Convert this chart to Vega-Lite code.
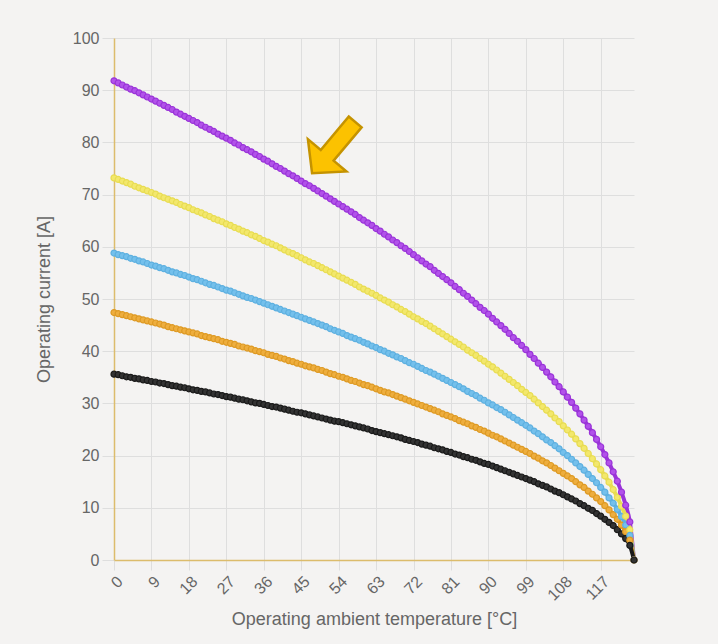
{
  "$schema": "https://vega.github.io/schema/vega-lite/v6.json",
  "width": 520,
  "height": 522,
  "autosize": {"type": "none"},
  "padding": {"left": 114, "top": 38, "right": 84, "bottom": 84},
  "background": "#f4f3f2",
  "config": {
    "view": {"stroke": null},
    "font": "Liberation Sans",
    "axis": {"labelFont": "Liberation Sans", "titleFont": "Liberation Sans", "labelColor": "#666666", "titleColor": "#666666", "titleFontWeight": "normal", "gridColor": "#dedede", "tickColor": "#dedede", "domainColor": "#dcbc6c", "domainWidth": 1.5}
  },
  "data": {"values": [
    {"t":0,"purple":91.8,"yellow":73.2,"blue":58.8,"orange":47.4,"black":35.6},
    {"t":1,"purple":91.4,"yellow":72.9,"blue":58.5,"orange":47.2,"black":35.5},
    {"t":2,"purple":91.0,"yellow":72.6,"blue":58.3,"orange":47.0,"black":35.3},
    {"t":3,"purple":90.6,"yellow":72.3,"blue":58.1,"orange":46.8,"black":35.1},
    {"t":4,"purple":90.2,"yellow":72.0,"blue":57.8,"orange":46.6,"black":35.0},
    {"t":5,"purple":89.9,"yellow":71.6,"blue":57.6,"orange":46.4,"black":34.8},
    {"t":6,"purple":89.5,"yellow":71.3,"blue":57.3,"orange":46.2,"black":34.7},
    {"t":7,"purple":89.1,"yellow":71.0,"blue":57.1,"orange":46.0,"black":34.5},
    {"t":8,"purple":88.7,"yellow":70.7,"blue":56.8,"orange":45.8,"black":34.4},
    {"t":9,"purple":88.3,"yellow":70.4,"blue":56.5,"orange":45.6,"black":34.2},
    {"t":10,"purple":87.9,"yellow":70.1,"blue":56.3,"orange":45.4,"black":34.1},
    {"t":11,"purple":87.5,"yellow":69.7,"blue":56.0,"orange":45.2,"black":33.9},
    {"t":12,"purple":87.1,"yellow":69.4,"blue":55.8,"orange":45.0,"black":33.8},
    {"t":13,"purple":86.7,"yellow":69.1,"blue":55.5,"orange":44.7,"black":33.6},
    {"t":14,"purple":86.3,"yellow":68.8,"blue":55.2,"orange":44.5,"black":33.4},
    {"t":15,"purple":85.8,"yellow":68.5,"blue":55.0,"orange":44.3,"black":33.3},
    {"t":16,"purple":85.4,"yellow":68.1,"blue":54.7,"orange":44.1,"black":33.1},
    {"t":17,"purple":85.0,"yellow":67.8,"blue":54.5,"orange":43.9,"black":33.0},
    {"t":18,"purple":84.6,"yellow":67.5,"blue":54.2,"orange":43.7,"black":32.8},
    {"t":19,"purple":84.2,"yellow":67.1,"blue":53.9,"orange":43.5,"black":32.6},
    {"t":20,"purple":83.8,"yellow":66.8,"blue":53.7,"orange":43.3,"black":32.5},
    {"t":21,"purple":83.3,"yellow":66.5,"blue":53.4,"orange":43.0,"black":32.3},
    {"t":22,"purple":82.9,"yellow":66.1,"blue":53.1,"orange":42.8,"black":32.2},
    {"t":23,"purple":82.5,"yellow":65.8,"blue":52.8,"orange":42.6,"black":32.0},
    {"t":24,"purple":82.1,"yellow":65.4,"blue":52.6,"orange":42.4,"black":31.8},
    {"t":25,"purple":81.6,"yellow":65.1,"blue":52.3,"orange":42.2,"black":31.7},
    {"t":26,"purple":81.2,"yellow":64.8,"blue":52.0,"orange":41.9,"black":31.5},
    {"t":27,"purple":80.8,"yellow":64.4,"blue":51.7,"orange":41.7,"black":31.3},
    {"t":28,"purple":80.4,"yellow":64.1,"blue":51.5,"orange":41.5,"black":31.2},
    {"t":29,"purple":79.9,"yellow":63.7,"blue":51.2,"orange":41.3,"black":31.0},
    {"t":30,"purple":79.5,"yellow":63.4,"blue":50.9,"orange":41.0,"black":30.8},
    {"t":31,"purple":79.0,"yellow":63.0,"blue":50.6,"orange":40.8,"black":30.7},
    {"t":32,"purple":78.6,"yellow":62.7,"blue":50.3,"orange":40.6,"black":30.5},
    {"t":33,"purple":78.2,"yellow":62.3,"blue":50.1,"orange":40.4,"black":30.3},
    {"t":34,"purple":77.7,"yellow":62.0,"blue":49.8,"orange":40.1,"black":30.1},
    {"t":35,"purple":77.3,"yellow":61.6,"blue":49.5,"orange":39.9,"black":30.0},
    {"t":36,"purple":76.8,"yellow":61.2,"blue":49.2,"orange":39.7,"black":29.8},
    {"t":37,"purple":76.4,"yellow":60.9,"blue":48.9,"orange":39.4,"black":29.6},
    {"t":38,"purple":75.9,"yellow":60.5,"blue":48.6,"orange":39.2,"black":29.4},
    {"t":39,"purple":75.4,"yellow":60.2,"blue":48.3,"orange":39.0,"black":29.3},
    {"t":40,"purple":75.0,"yellow":59.8,"blue":48.0,"orange":38.7,"black":29.1},
    {"t":41,"purple":74.5,"yellow":59.4,"blue":47.7,"orange":38.5,"black":28.9},
    {"t":42,"purple":74.0,"yellow":59.0,"blue":47.4,"orange":38.2,"black":28.7},
    {"t":43,"purple":73.6,"yellow":58.7,"blue":47.1,"orange":38.0,"black":28.5},
    {"t":44,"purple":73.1,"yellow":58.3,"blue":46.8,"orange":37.7,"black":28.3},
    {"t":45,"purple":72.6,"yellow":57.9,"blue":46.5,"orange":37.5,"black":28.2},
    {"t":46,"purple":72.1,"yellow":57.5,"blue":46.2,"orange":37.2,"black":28.0},
    {"t":47,"purple":71.7,"yellow":57.1,"blue":45.9,"orange":37.0,"black":27.8},
    {"t":48,"purple":71.2,"yellow":56.8,"blue":45.6,"orange":36.8,"black":27.6},
    {"t":49,"purple":70.7,"yellow":56.4,"blue":45.3,"orange":36.5,"black":27.4},
    {"t":50,"purple":70.2,"yellow":56.0,"blue":45.0,"orange":36.3,"black":27.2},
    {"t":51,"purple":69.7,"yellow":55.6,"blue":44.7,"orange":36.0,"black":27.0},
    {"t":52,"purple":69.2,"yellow":55.2,"blue":44.3,"orange":35.7,"black":26.8},
    {"t":53,"purple":68.7,"yellow":54.8,"blue":44.0,"orange":35.5,"black":26.6},
    {"t":54,"purple":68.2,"yellow":54.4,"blue":43.7,"orange":35.2,"black":26.5},
    {"t":55,"purple":67.7,"yellow":54.0,"blue":43.4,"orange":35.0,"black":26.3},
    {"t":56,"purple":67.2,"yellow":53.6,"blue":43.0,"orange":34.7,"black":26.1},
    {"t":57,"purple":66.7,"yellow":53.2,"blue":42.7,"orange":34.4,"black":25.9},
    {"t":58,"purple":66.2,"yellow":52.8,"blue":42.4,"orange":34.2,"black":25.7},
    {"t":59,"purple":65.6,"yellow":52.3,"blue":42.1,"orange":33.9,"black":25.5},
    {"t":60,"purple":65.1,"yellow":51.9,"blue":41.7,"orange":33.6,"black":25.3},
    {"t":61,"purple":64.6,"yellow":51.5,"blue":41.4,"orange":33.4,"black":25.1},
    {"t":62,"purple":64.1,"yellow":51.1,"blue":41.0,"orange":33.1,"black":24.8},
    {"t":63,"purple":63.5,"yellow":50.7,"blue":40.7,"orange":32.8,"black":24.6},
    {"t":64,"purple":63.0,"yellow":50.2,"blue":40.3,"orange":32.5,"black":24.4},
    {"t":65,"purple":62.4,"yellow":49.8,"blue":40.0,"orange":32.2,"black":24.2},
    {"t":66,"purple":61.9,"yellow":49.4,"blue":39.6,"orange":32.0,"black":24.0},
    {"t":67,"purple":61.3,"yellow":48.9,"blue":39.3,"orange":31.7,"black":23.8},
    {"t":68,"purple":60.8,"yellow":48.5,"blue":38.9,"orange":31.4,"black":23.6},
    {"t":69,"purple":60.2,"yellow":48.0,"blue":38.6,"orange":31.1,"black":23.4},
    {"t":70,"purple":59.7,"yellow":47.6,"blue":38.2,"orange":30.8,"black":23.1},
    {"t":71,"purple":59.1,"yellow":47.1,"blue":37.8,"orange":30.5,"black":22.9},
    {"t":72,"purple":58.5,"yellow":46.6,"blue":37.5,"orange":30.2,"black":22.7},
    {"t":73,"purple":57.9,"yellow":46.2,"blue":37.1,"orange":29.9,"black":22.5},
    {"t":74,"purple":57.3,"yellow":45.7,"blue":36.7,"orange":29.6,"black":22.2},
    {"t":75,"purple":56.7,"yellow":45.3,"blue":36.3,"orange":29.3,"black":22.0},
    {"t":76,"purple":56.2,"yellow":44.8,"blue":36.0,"orange":29.0,"black":21.8},
    {"t":77,"purple":55.5,"yellow":44.3,"blue":35.6,"orange":28.7,"black":21.5},
    {"t":78,"purple":54.9,"yellow":43.8,"blue":35.2,"orange":28.4,"black":21.3},
    {"t":79,"purple":54.3,"yellow":43.3,"blue":34.8,"orange":28.0,"black":21.1},
    {"t":80,"purple":53.7,"yellow":42.8,"blue":34.4,"orange":27.7,"black":20.8},
    {"t":81,"purple":53.1,"yellow":42.3,"blue":34.0,"orange":27.4,"black":20.6},
    {"t":82,"purple":52.4,"yellow":41.8,"blue":33.6,"orange":27.1,"black":20.3},
    {"t":83,"purple":51.8,"yellow":41.3,"blue":33.2,"orange":26.7,"black":20.1},
    {"t":84,"purple":51.1,"yellow":40.8,"blue":32.8,"orange":26.4,"black":19.8},
    {"t":85,"purple":50.5,"yellow":40.2,"blue":32.3,"orange":26.1,"black":19.6},
    {"t":86,"purple":49.8,"yellow":39.7,"blue":31.9,"orange":25.7,"black":19.3},
    {"t":87,"purple":49.1,"yellow":39.2,"blue":31.5,"orange":25.4,"black":19.1},
    {"t":88,"purple":48.4,"yellow":38.6,"blue":31.0,"orange":25.0,"black":18.8},
    {"t":89,"purple":47.8,"yellow":38.1,"blue":30.6,"orange":24.7,"black":18.5},
    {"t":90,"purple":47.1,"yellow":37.5,"blue":30.1,"orange":24.3,"black":18.3},
    {"t":91,"purple":46.3,"yellow":37.0,"blue":29.7,"orange":23.9,"black":18.0},
    {"t":92,"purple":45.6,"yellow":36.4,"blue":29.2,"orange":23.6,"black":17.7},
    {"t":93,"purple":44.9,"yellow":35.8,"blue":28.8,"orange":23.2,"black":17.4},
    {"t":94,"purple":44.2,"yellow":35.2,"blue":28.3,"orange":22.8,"black":17.1},
    {"t":95,"purple":43.4,"yellow":34.6,"blue":27.8,"orange":22.4,"black":16.8},
    {"t":96,"purple":42.6,"yellow":34.0,"blue":27.3,"orange":22.0,"black":16.5},
    {"t":97,"purple":41.9,"yellow":33.4,"blue":26.8,"orange":21.6,"black":16.2},
    {"t":98,"purple":41.1,"yellow":32.7,"blue":26.3,"orange":21.2,"black":15.9},
    {"t":99,"purple":40.3,"yellow":32.1,"blue":25.8,"orange":20.8,"black":15.6},
    {"t":100,"purple":39.4,"yellow":31.5,"blue":25.3,"orange":20.4,"black":15.3},
    {"t":101,"purple":38.6,"yellow":30.8,"blue":24.7,"orange":19.9,"black":15.0},
    {"t":102,"purple":37.7,"yellow":30.1,"blue":24.2,"orange":19.5,"black":14.6},
    {"t":103,"purple":36.9,"yellow":29.4,"blue":23.6,"orange":19.0,"black":14.3},
    {"t":104,"purple":36.0,"yellow":28.7,"blue":23.0,"orange":18.6,"black":14.0},
    {"t":105,"purple":35.1,"yellow":28.0,"blue":22.5,"orange":18.1,"black":13.6},
    {"t":106,"purple":34.1,"yellow":27.2,"blue":21.9,"orange":17.6,"black":13.2},
    {"t":107,"purple":33.2,"yellow":26.5,"blue":21.3,"orange":17.1,"black":12.9},
    {"t":108,"purple":32.2,"yellow":25.7,"blue":20.6,"orange":16.6,"black":12.5},
    {"t":109,"purple":31.2,"yellow":24.9,"blue":20.0,"orange":16.1,"black":12.1},
    {"t":110,"purple":30.2,"yellow":24.1,"blue":19.3,"orange":15.6,"black":11.7},
    {"t":111,"purple":29.1,"yellow":23.2,"blue":18.6,"orange":15.0,"black":11.3},
    {"t":112,"purple":28.0,"yellow":22.3,"blue":17.9,"orange":14.4,"black":10.8},
    {"t":113,"purple":26.8,"yellow":21.4,"blue":17.2,"orange":13.9,"black":10.4},
    {"t":114,"purple":25.6,"yellow":20.4,"blue":16.4,"orange":13.2,"black":9.9},
    {"t":115,"purple":24.4,"yellow":19.4,"blue":15.6,"orange":12.6,"black":9.5},
    {"t":116,"purple":23.1,"yellow":18.4,"blue":14.8,"orange":11.9,"black":8.9},
    {"t":117,"purple":21.7,"yellow":17.3,"blue":13.9,"orange":11.2,"black":8.4},
    {"t":118,"purple":20.2,"yellow":16.1,"blue":13.0,"orange":10.4,"black":7.8},
    {"t":119,"purple":18.6,"yellow":14.9,"blue":11.9,"orange":9.6,"black":7.2},
    {"t":120,"purple":16.9,"yellow":13.5,"blue":10.9,"orange":8.7,"black":6.6},
    {"t":121,"purple":15.1,"yellow":12.0,"blue":9.7,"orange":7.8,"black":5.8},
    {"t":122,"purple":13.0,"yellow":10.3,"blue":8.3,"orange":6.7,"black":5.0},
    {"t":123,"purple":10.5,"yellow":8.4,"blue":6.7,"orange":5.4,"black":4.1},
    {"t":124,"purple":7.3,"yellow":5.8,"blue":4.7,"orange":3.8,"black":2.8},
    {"t":125,"purple":0,"yellow":0,"blue":0,"orange":0,"black":0}
  ]},
  "layer": [
    {
      "transform": [{"fold": ["purple", "yellow", "blue", "orange", "black"], "as": ["series", "current"]}],
      "mark": {"type": "line", "strokeWidth": 4, "interpolate": "monotone"},
      "encoding": {
        "x": {"field": "t", "type": "quantitative", "scale": {"domain": [0, 125], "nice": false, "zero": false},
          "axis": {"values": [0, 9, 18, 27, 36, 45, 54, 63, 72, 81, 90, 99, 108, 117], "tickCount": 30, "title": "Operating ambient temperature [°C]", "labelAngle": -45, "labelOverlap": false, "grid": true, "tickSize": 10, "labelFontSize": 16, "titleFontSize": 18, "titlePadding": 7, "labelPadding": 3}},
        "y": {"field": "current", "type": "quantitative", "scale": {"domain": [0, 100], "nice": false},
          "axis": {"values": [0, 10, 20, 30, 40, 50, 60, 70, 80, 90, 100], "tickCount": 20, "title": "Operating current [A]", "grid": true, "tickSize": 12, "labelPadding": 3, "labelFontSize": 16, "titleFontSize": 18, "titlePadding": 19}},
        "stroke": {"field": "series", "type": "nominal", "legend": null,
          "scale": {"domain": ["purple", "yellow", "blue", "orange", "black"], "range": ["#9a34d8", "#e8dc52", "#5eb0e0", "#de9a24", "#1a1a1a"]}},
        "detail": {"field": "series"}
      }
    },
    {
      "transform": [{"fold": ["purple", "yellow", "blue", "orange", "black"], "as": ["series", "current"]}],
      "mark": {"type": "point", "filled": true, "size": 36, "strokeWidth": 1.2, "opacity": 1},
      "encoding": {
        "x": {"field": "t", "type": "quantitative"},
        "y": {"field": "current", "type": "quantitative"},
        "fill": {"field": "series", "type": "nominal", "legend": null,
          "scale": {"domain": ["purple", "yellow", "blue", "orange", "black"], "range": ["#b252ea", "#f3e86c", "#74c0ec", "#eeae3e", "#333333"]}},
        "stroke": {"field": "series", "type": "nominal", "legend": null}
      }
    },
    {
      "data": {"values": [{"t": 52.8, "current": 79.0}]},
      "mark": {"type": "point", "shape": "M -1 0 L -0.3 -0.75 L -0.3 -0.25 L 1 -0.25 L 1 0.25 L -0.3 0.25 L -0.3 0.75 Z", "angle": 310, "size": 4500, "filled": true, "fill": "#fcc200", "stroke": "#c59300", "strokeWidth": 2.5, "strokeJoin": "miter", "opacity": 1},
      "encoding": {
        "x": {"field": "t", "type": "quantitative"},
        "y": {"field": "current", "type": "quantitative"}
      }
    }
  ]
}
